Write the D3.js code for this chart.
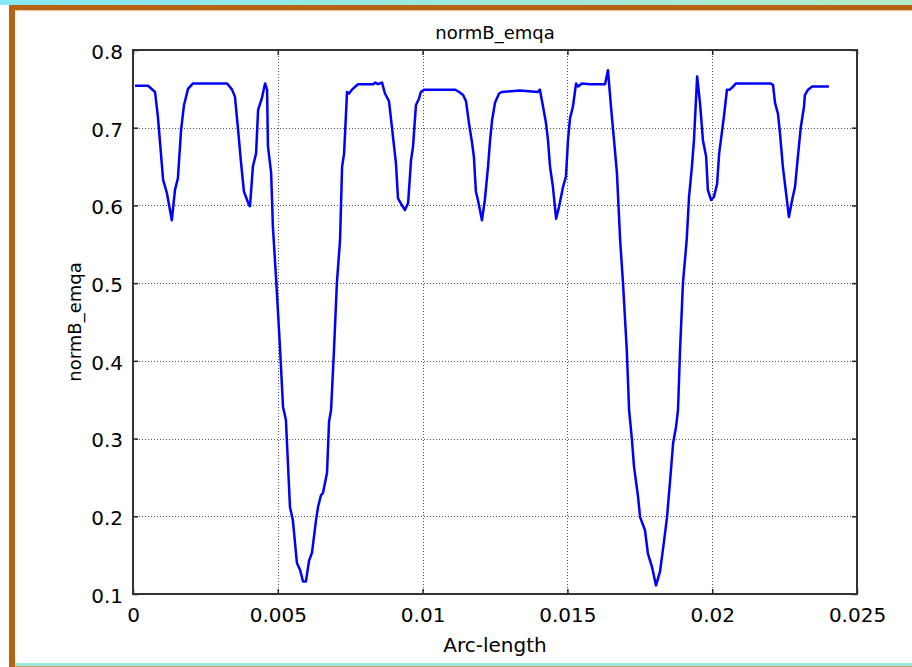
<!DOCTYPE html>
<html>
<head>
<meta charset="utf-8">
<script src="https://cdn.jsdelivr.net/npm/d3@7"></script>
<style>
  body { margin: 0; background: #fff; }
  svg { display: block; font-family: "DejaVu Sans", Verdana, sans-serif; }
</style>
</head>
<body>
<svg id="chart" width="912" height="667"></svg>
<script>
// arc-length positions and normB_emqa values
const arcLength = [
  0.00007, 0.00052, 0.00076, 0.00086, 0.00104, 0.00117, 0.00134, 0.00145, 0.00155, 0.00166,
  0.00176, 0.00190, 0.00207, 0.00325, 0.00342, 0.00352, 0.00363, 0.00373, 0.00383, 0.00401,
  0.00404, 0.00414, 0.00425, 0.00432, 0.00445, 0.00456, 0.00463, 0.00466, 0.00477, 0.00483,
  0.00495, 0.00508, 0.00518, 0.00528, 0.00542, 0.00552, 0.00566, 0.00577, 0.00587, 0.00597,
  0.00608, 0.00618, 0.00632, 0.00639, 0.00649, 0.00656, 0.00670, 0.00677, 0.00684, 0.00694,
  0.00704, 0.00715, 0.00722, 0.00729, 0.00739, 0.00746, 0.00756, 0.00777, 0.00829, 0.00836,
  0.00846, 0.00860, 0.00870, 0.00884, 0.00894, 0.00908, 0.00915, 0.00929, 0.00939, 0.00950,
  0.00960, 0.00967, 0.00977, 0.00988, 0.00994, 0.01005, 0.01060, 0.01112, 0.01126, 0.01140,
  0.01150, 0.01160, 0.01171, 0.01177, 0.01184, 0.01191, 0.01198, 0.01205, 0.01215, 0.01226,
  0.01233, 0.01240, 0.01250, 0.01264, 0.01274, 0.01336, 0.01398, 0.01405, 0.01416, 0.01426,
  0.01433, 0.01440, 0.01450, 0.01461, 0.01471, 0.01485, 0.01495, 0.01502, 0.01509, 0.01519,
  0.01530, 0.01537, 0.01550, 0.01578, 0.01630, 0.01640, 0.01651, 0.01661, 0.01671, 0.01682,
  0.01692, 0.01705, 0.01713, 0.01723, 0.01730, 0.01744, 0.01751, 0.01768, 0.01778, 0.01792,
  0.01806, 0.01820, 0.01834, 0.01844, 0.01854, 0.01865, 0.01875, 0.01882, 0.01889, 0.01899,
  0.01912, 0.01920, 0.01930, 0.01937, 0.01948, 0.01958, 0.01968, 0.01979, 0.01985, 0.01996,
  0.02006, 0.02017, 0.02024, 0.02030, 0.02041, 0.02051, 0.02061, 0.02072, 0.02082, 0.02200,
  0.02210, 0.02217, 0.02227, 0.02234, 0.02244, 0.02255, 0.02265, 0.02276, 0.02286, 0.02296,
  0.02306, 0.02317, 0.02320, 0.02331, 0.02345, 0.02403
];
const normB = [
  0.754, 0.754, 0.746, 0.714, 0.633, 0.616, 0.581, 0.620, 0.635, 0.697,
  0.729, 0.750, 0.757, 0.757, 0.749, 0.740, 0.697, 0.655, 0.618, 0.600,
  0.599, 0.650, 0.667, 0.723, 0.738, 0.757, 0.749, 0.676, 0.642, 0.573,
  0.500, 0.414, 0.341, 0.324, 0.212, 0.195, 0.140, 0.131, 0.116, 0.116,
  0.143, 0.153, 0.195, 0.212, 0.227, 0.230, 0.256, 0.322, 0.337, 0.414,
  0.500, 0.556, 0.650, 0.667, 0.746, 0.744, 0.749, 0.756, 0.756, 0.758,
  0.756, 0.758, 0.744, 0.734, 0.701, 0.654, 0.609, 0.600, 0.594, 0.603,
  0.658, 0.676, 0.729, 0.738, 0.746, 0.749, 0.749, 0.749, 0.746, 0.742,
  0.734, 0.706, 0.680, 0.663, 0.618, 0.607, 0.594, 0.581, 0.607, 0.650,
  0.684, 0.710, 0.732, 0.744, 0.746, 0.748, 0.746, 0.749, 0.727, 0.706,
  0.684, 0.650, 0.624, 0.583, 0.598, 0.624, 0.637, 0.684, 0.712, 0.727,
  0.757, 0.753, 0.757, 0.756, 0.756, 0.774, 0.725, 0.684, 0.642, 0.556,
  0.500, 0.414, 0.337, 0.298, 0.264, 0.225, 0.199, 0.182, 0.152, 0.135,
  0.111, 0.129, 0.169, 0.199, 0.243, 0.294, 0.315, 0.337, 0.414, 0.500,
  0.556, 0.611, 0.650, 0.684, 0.766, 0.731, 0.684, 0.663, 0.620, 0.607,
  0.611, 0.628, 0.667, 0.684, 0.716, 0.749, 0.749, 0.753, 0.757, 0.757,
  0.755, 0.732, 0.718, 0.693, 0.650, 0.616, 0.585, 0.607, 0.624, 0.663,
  0.701, 0.727, 0.742, 0.749, 0.753, 0.753
];
const xTicks = [0, 0.005, 0.01, 0.015, 0.02, 0.025];
const xTickLabels = ["0", "0.005", "0.01", "0.015", "0.02", "0.025"];
const yTicks = [0.1, 0.2, 0.3, 0.4, 0.5, 0.6, 0.7, 0.8];
const yTickLabels = ["0.1", "0.2", "0.3", "0.4", "0.5", "0.6", "0.7", "0.8"];

const svg = d3.select("#chart");

// window frame around the plot
const grad = svg.append("defs").append("linearGradient").attr("id", "topGrad");
grad.append("stop").attr("offset", "0%").attr("stop-color", "#86e6f2");
grad.append("stop").attr("offset", "100%").attr("stop-color", "#b4ecc8");
svg.append("rect").attr("x", 0).attr("y", 0).attr("width", 912).attr("height", 5).attr("fill", "url(#topGrad)");
svg.append("rect").attr("x", 9).attr("y", 5).attr("width", 903).attr("height", 5).attr("fill", "#b66414");
svg.append("rect").attr("x", 15).attr("y", 10).attr("width", 897).attr("height", 1).attr("fill", "#e8c49a");
svg.append("rect").attr("x", 9).attr("y", 5).attr("width", 6).attr("height", 662).attr("fill", "#b66414");
svg.append("rect").attr("x", 15).attr("y", 663).attr("width", 897).attr("height", 3).attr("fill", "#98ecdc");
svg.append("rect").attr("x", 15).attr("y", 666).attr("width", 897).attr("height", 1).attr("fill", "#c8a878");

const margin = {top: 50, right: 55, bottom: 73, left: 133},
  width = 912 - margin.left - margin.right,
  height = 667 - margin.top - margin.bottom;

const g = svg.append("g").attr("transform", "translate(" + margin.left + "," + margin.top + ")");

const x = d3.scaleLinear().domain([0, 0.025]).range([0, width]);
const y = d3.scaleLinear().domain([0.1, 0.8]).range([height, 0]);

// dotted grid
g.append("g").selectAll("line").data(xTicks.slice(1, -1)).join("line")
  .attr("x1", d => Math.round(x(d)) + 0.5).attr("x2", d => Math.round(x(d)) + 0.5)
  .attr("y1", 0).attr("y2", height)
  .attr("stroke", "#555").attr("stroke-dasharray", "1,2");
g.append("g").selectAll("line").data(yTicks.slice(1, -1)).join("line")
  .attr("y1", d => Math.round(y(d)) + 0.5).attr("y2", d => Math.round(y(d)) + 0.5)
  .attr("x1", 0).attr("x2", width)
  .attr("stroke", "#555").attr("stroke-dasharray", "1,2");

// inward ticks on all four sides
const fmtX = (d, i) => xTickLabels[i];
const fmtY = (d, i) => yTickLabels[i];
const axB = g.append("g").attr("transform", "translate(0," + height + ")")
  .call(d3.axisBottom(x).tickValues(xTicks).tickFormat(fmtX).tickSize(-5).tickPadding(14));
const axT = g.append("g")
  .call(d3.axisTop(x).tickValues(xTicks).tickFormat("").tickSize(-5));
const axL = g.append("g")
  .call(d3.axisLeft(y).tickValues(yTicks).tickFormat(fmtY).tickSize(-5).tickPadding(10));
const axR = g.append("g").attr("transform", "translate(" + width + ",0)")
  .call(d3.axisRight(y).tickValues(yTicks).tickFormat("").tickSize(-5));
[axB, axT, axL, axR].forEach(a => {
  a.select(".domain").remove();
  a.selectAll(".tick line").attr("stroke", "#222").attr("stroke-width", 1.5);
  a.selectAll("text").attr("fill", "#000").style("font-size", "20px").style("font-family", "DejaVu Sans, sans-serif");
});
axL.selectAll("text").attr("dy", "0.42em");

// frame
g.append("rect").attr("x", 0).attr("y", 0).attr("width", width).attr("height", height)
  .attr("fill", "none").attr("stroke", "#333").attr("stroke-width", 2);

// curve
const line = d3.line().x((d, i) => x(arcLength[i])).y(d => y(d));
g.append("path").datum(normB)
  .attr("d", line)
  .attr("fill", "none")
  .attr("stroke", "#0000ff")
  .attr("stroke-width", 2.5)
  .attr("stroke-linejoin", "round");

// labels
g.append("text").attr("x", width / 2).attr("y", -11)
  .attr("text-anchor", "middle").style("font-size", "18px").text("normB_emqa");
g.append("text").attr("x", width / 2).attr("y", height + 58)
  .attr("text-anchor", "middle").style("font-size", "20px").text("Arc-length");
g.append("text").attr("transform", "rotate(-90)")
  .attr("x", -height / 2).attr("y", -52)
  .attr("text-anchor", "middle").style("font-size", "18px").text("normB_emqa");
</script>
</body>
</html>
